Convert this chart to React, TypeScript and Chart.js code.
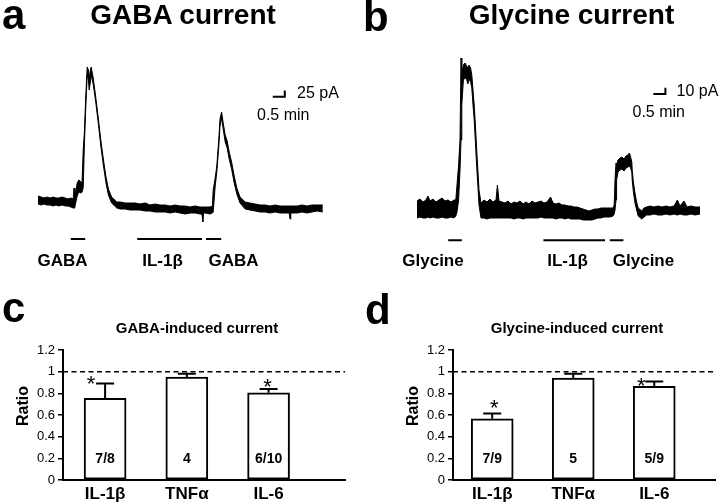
import React, { useEffect, useRef } from 'react';
import { Chart, registerables } from 'chart.js';

Chart.register(...registerables);

const FONT = '"Liberation Sans", Arial, Helvetica, sans-serif';

// ---------- Panel a: GABA current trace (time in s, current in pA) ----------
const traceATime = [
  0, 8, 15, 22, 30, 38, 45, 52, 60, 68,
  75, 82, 88, 90, 92, 98, 102, 108, 110, 113,
  116, 119, 123, 126, 128, 131, 133, 138, 144, 151,
  157, 163, 170, 176, 184, 197, 205, 218, 230, 243,
  255, 268, 280, 293, 305, 318, 330, 343, 355, 368,
  380, 393, 405, 410, 412, 414, 418, 430, 436, 438,
  443, 447, 452, 455, 459, 463, 468, 473, 478, 484,
  490, 497, 505, 518, 530, 543, 555, 568, 580, 593,
  605, 618, 628, 630, 632, 635, 648, 660, 673, 685,
  698, 712,
];
const traceAUpper = [
  36, 32, 28, 32, 28, 32, 28, 28, 32, 28,
  24, 28, 24, 68, 32, 88, 100, 92, 88, 220,
  292, 420, 552, 540, 508, 540, 552, 508, 436, 344,
  260, 188, 112, 64, 32, 12, 12, 8, 8, 8,
  4, 8, 0, 4, 0, 0, -4, 0, -4, -4,
  -8, -4, -8, -8, -8, -8, -8, -8, -4, 60,
  108, 156, 264, 344, 372, 328, 280, 256, 212, 172,
  120, 68, 32, 12, 8, 4, 0, 0, -4, 0,
  -4, -4, -4, -4, -4, -4, -4, 0, -4, 0,
  0, 0,
];
const traceALower = [
  4, 0, 4, 0, 0, -4, 0, -4, 0, -4,
  -4, -8, -12, -12, -8, 36, 52, 48, 52, 68,
  240, 372, 520, 500, 460, 492, 520, 484, 416, 324,
  236, 164, 88, 40, 8, -12, -16, -16, -20, -20,
  -20, -24, -24, -28, -28, -28, -32, -28, -32, -36,
  -32, -32, -36, -36, -68, -32, -32, -36, -32, -28,
  76, 132, 236, 316, 348, 304, 252, 228, 184, 144,
  92, 44, 8, -16, -20, -24, -28, -28, -32, -28,
  -32, -32, -32, -56, -32, -32, -32, -28, -32, -28,
  -24, -28,
];
const gabaApplicationsA = [[82, 118], [420, 458]];
const il1bApplicationsA = [[248, 410]];
const scaleBarA = { time: 30, current: 25 }; // 0.5 min, 25 pA

// ---------- Panel b: Glycine current trace (time in s, current in pA) ----------
const traceBTime = [
  0, 7.5, 15, 22.5, 27.5, 32.5, 40, 47.5, 55, 62.5,
  70, 77.5, 85, 92.5, 97, 100, 104, 107.5, 110, 112,
  116, 120, 124, 127, 130, 134, 137, 140, 143, 146,
  149, 152.5, 155, 160, 167.5, 175, 182.5, 190, 197.5, 201,
  205, 212.5, 220, 227.5, 235, 242.5, 250, 257.5, 265, 272.5,
  280, 287.5, 295, 302.5, 310, 317.5, 325, 334, 340, 347.5,
  355, 362.5, 370, 377.5, 385, 392.5, 400, 407.5, 415, 422.5,
  430, 437.5, 445, 452.5, 460, 467.5, 475, 482.5, 490, 493,
  495, 497.5, 499, 502.5, 507.5, 512.5, 517.5, 522.5, 527.5, 531,
  534, 537, 538, 541, 545, 549, 553, 562, 567.5, 574,
  582.5, 592.5, 602.5, 612.5, 622.5, 632.5, 642.5, 651, 657.5, 667.5,
  675, 685, 695, 707.5,
];
const traceBUpper = [
  12.8, 16, 11.2, 14.4, 20.8, 12.8, 16, 11.2, 14.4, 17.6,
  12.8, 14.4, 11.2, 14.4, 14.4, 38.4, 70.4, 110.4, 241.6, 214.4,
  230.4, 233.6, 228.8, 225.6, 230.4, 225.6, 214.4, 190.4, 166.4, 134.4,
  97.6, 59.2, 30.4, 9.6, 14.4, 11.2, 16, 11.2, 14.4, 38.4,
  12.8, 11.2, 9.6, 12.8, 8, 11.2, 9.6, 12.8, 8, 11.2,
  8, 12.8, 9.6, 11.2, 12.8, 9.6, 11.2, 19.2, 9.6, 8,
  9.6, 6.4, 6.4, 4.8, 4.8, 3.2, 3.2, 1.6, 0, -1.6,
  -3.2, -1.6, 0, 0, 1.6, 1.6, 1.6, 1.6, 1.6, 6.4,
  46.4, 73.6, 70.4, 78.4, 81.6, 83.2, 80, 84.8, 86.4, 89.6,
  83.2, 75.2, 62.4, 43.2, 25.6, 11.2, 1.6, -3.2, 1.6, 3.2,
  4.8, 3.2, 4.8, 3.2, 4.8, 3.2, 4.8, 14.4, 4.8, 12.8,
  3.2, 4.8, 3.2, 3.2,
];
const traceBLower = [
  -14.4, -12.8, -14.4, -14.4, -12.8, -14.4, -12.8, -14.4, -14.4, -12.8,
  -14.4, -14.4, -12.8, -14.4, -11.2, -4.8, 14.4, 62.4, 110.4, 166.4,
  206.4, 209.6, 208, 200, 208, 203.2, 193.6, 166.4, 142.4, 107.2,
  70.4, 33.6, 6.4, -14.4, -14.4, -16, -14.4, -14.4, -14.4, -14.4,
  -14.4, -14.4, -14.4, -14.4, -14.4, -16, -14.4, -14.4, -16, -14.4,
  -14.4, -14.4, -14.4, -14.4, -12.8, -14.4, -14.4, -14.4, -14.4, -16,
  -14.4, -14.4, -16, -14.4, -16, -16, -16, -16, -17.6, -17.6,
  -17.6, -17.6, -16, -14.4, -14.4, -12.8, -12.8, -12.8, -11.2, -8,
  -1.6, 14.4, 46.4, 59.2, 62.4, 64, 60.8, 65.6, 67.2, 68.8,
  65.6, 59.2, 46.4, 27.2, 9.6, -1.6, -11.2, -16, -12.8, -9.6,
  -9.6, -8, -9.6, -9.6, -8, -9.6, -8, -9.6, -8, -9.6,
  -9.6, -8, -9.6, -8,
];
const glyApplicationsB = [[78, 112], [482, 516]];
const il1bApplicationsB = [[316, 470]];
const scaleBarB = { time: 30, current: 10 }; // 0.5 min, 10 pA

// ---------- Panels c, d: ratio bar charts ----------
const cytokines = ['IL-1β', 'TNFα', 'IL-6'];
const gabaRatio = [0.755, 0.95, 0.805];
const gabaSem = [0.135, 0.03, 0.035];
const gabaN = ['7/8', '4', '6/10'];
const gabaSignificant = [true, false, true];
const glyRatio = [0.565, 0.94, 0.865];
const glySem = [0.05, 0.04, 0.045];
const glyN = ['7/9', '5', '5/9'];
const glySignificant = [true, false, true];
const yTicks = { min: 0, max: 1.2, step: 0.2 };
const referenceRatio = 1;

type TraceProps = {
  left: number; top: number; width: number; height: number;
  time: number[]; upper: number[]; lower: number[];
  applications: number[][]; stimLevel: number;
  bar: { time: number; current: number }; barAt: { t: number; i: number };
  xRange: [number, number]; yRange: [number, number];
};

function TraceChart(p: TraceProps) {
  const ref = useRef<HTMLCanvasElement>(null);
  useEffect(() => {
    const pts = (ys: number[]) => p.time.map((t, i) => ({ x: t, y: ys[i] }));
    const line = { borderColor: '#000', pointRadius: 0, fill: false, tension: 0 };
    const datasets: any[] = [
      { ...line, data: pts(p.upper), borderWidth: 1 },
      { ...line, data: pts(p.lower), borderWidth: 1, fill: '-1', backgroundColor: '#000' },
      ...p.applications.map(([s, e]) => ({
        ...line, borderWidth: 2,
        data: [{ x: s, y: p.stimLevel }, { x: e, y: p.stimLevel }],
      })),
      {
        ...line, borderWidth: 2,
        data: [
          { x: p.barAt.t, y: p.barAt.i },
          { x: p.barAt.t + p.bar.time, y: p.barAt.i },
          { x: p.barAt.t + p.bar.time, y: p.barAt.i + p.bar.current },
        ],
      },
    ];
    const chart = new Chart(ref.current!, {
      type: 'line',
      data: { datasets },
      options: {
        animation: false,
        responsive: false,
        events: [],
        layout: { padding: 0 },
        plugins: { legend: { display: false }, tooltip: { enabled: false } },
        scales: {
          x: { type: 'linear', display: false, min: p.xRange[0], max: p.xRange[1] },
          y: { type: 'linear', display: false, min: p.yRange[0], max: p.yRange[1] },
        },
      },
    });
    return () => chart.destroy();
  }, []);
  return (
    <canvas ref={ref} width={p.width} height={p.height}
      style={{ position: 'absolute', left: p.left, top: p.top, width: p.width, height: p.height }} />
  );
}

type BarProps = {
  left: number; top: number; width: number; height: number;
  yAxisWidth: number; padRight: number;
  means: number[]; sems: number[]; counts: string[]; significant: boolean[];
  starOffsets: number[][]; xRange: [number, number];
};

function makeBarMarks(p: BarProps) {
  return {
    id: 'barMarks',
    beforeDatasetsDraw(chart: any) {
      const { ctx, chartArea, scales } = chart;
      const yr = scales.y.getPixelForValue(referenceRatio);
      ctx.save();
      ctx.strokeStyle = '#000';
      ctx.lineWidth = 1.5;
      ctx.setLineDash([5, 3.5]);
      ctx.beginPath();
      ctx.moveTo(chartArea.left, yr);
      ctx.lineTo(chartArea.right, yr);
      ctx.stroke();
      ctx.restore();
    },
    afterDatasetsDraw(chart: any) {
      const { ctx, chartArea, scales } = chart;
      const y = scales.y;
      const meta = chart.getDatasetMeta(0);
      ctx.save();
      ctx.strokeStyle = '#000';
      ctx.fillStyle = '#000';
      meta.data.forEach((bar: any, i: number) => {
        const x = bar.x;
        const top = y.getPixelForValue(p.means[i]);
        const errTop = y.getPixelForValue(p.means[i] + p.sems[i]);
        ctx.lineWidth = 2;
        ctx.beginPath();
        ctx.moveTo(x, top);
        ctx.lineTo(x, errTop);
        ctx.moveTo(x - 9, errTop);
        ctx.lineTo(x + 9, errTop);
        ctx.stroke();
        ctx.font = `bold 14px ${FONT}`;
        ctx.textAlign = 'center';
        ctx.textBaseline = 'middle';
        ctx.fillText(p.counts[i], x, y.getPixelForValue(0.19));
        if (p.significant[i]) {
          const [dx, dy] = p.starOffsets[i];
          ctx.font = `22px ${FONT}`;
          ctx.textBaseline = 'alphabetic';
          ctx.fillText('*', x + dx, errTop + dy + 12.5);
        }
      });
      ctx.translate(chartArea.left - 39, chartArea.top + 56);
      ctx.rotate(-Math.PI / 2);
      ctx.font = `bold 16px ${FONT}`;
      ctx.textAlign = 'center';
      ctx.textBaseline = 'middle';
      ctx.fillText('Ratio', 0, 0);
      ctx.restore();
    },
  };
}

function BarPanel(p: BarProps) {
  const ref = useRef<HTMLCanvasElement>(null);
  useEffect(() => {
    const chart = new Chart(ref.current!, {
      type: 'bar',
      data: {
        datasets: [{
          data: cytokines.map((_, i) => ({ x: i, y: p.means[i] })),
          backgroundColor: '#fff',
          borderColor: '#000',
          borderWidth: 2,
          borderSkipped: false,
          barThickness: 42,
        }],
      },
      options: {
        animation: false,
        responsive: false,
        events: [],
        layout: { padding: { top: 50, right: p.padRight, left: 0, bottom: 0 } },
        plugins: { legend: { display: false }, tooltip: { enabled: false } },
        scales: {
          x: {
            type: 'linear',
            min: p.xRange[0],
            max: p.xRange[1],
            offset: false,
            grid: { display: false, drawTicks: false },
            border: { display: true, color: '#000', width: 2 },
            ticks: {
              color: '#000',
              font: { family: FONT, size: 17, weight: 'bold' },
              padding: 4,
              maxRotation: 0,
              autoSkip: false,
              callback: (v: any) => cytokines[v as number] ?? '',
            },
            afterBuildTicks: (s: any) => { s.ticks = cytokines.map((_, i) => ({ value: i })); },
            afterFit: (s: any) => { s.height = 24; },
          },
          y: {
            type: 'linear',
            min: yTicks.min,
            max: yTicks.max,
            ticks: {
              stepSize: yTicks.step,
              color: '#000',
              font: { family: FONT, size: 13 },
              padding: 3,
              callback: (v: any) => String(Math.round((v as number) * 10) / 10),
            },
            grid: { display: true, drawOnChartArea: false, drawTicks: true, tickLength: 5, color: '#000', lineWidth: 1.5 },
            border: { display: true, color: '#000', width: 2 },
            afterFit: (s: any) => { s.width = p.yAxisWidth; },
          },
        },
      },
      plugins: [makeBarMarks(p)],
    } as any);
    return () => chart.destroy();
  }, []);
  return (
    <canvas ref={ref} width={p.width} height={p.height}
      style={{ position: 'absolute', left: p.left, top: p.top, width: p.width, height: p.height }} />
  );
}

type LabelDef = { text: string; x: number; y: number; size: number; bold?: boolean; align?: 'left' | 'center' };

const labels: LabelDef[] = [
  { text: 'a', x: 2, y: 30, size: 42, bold: true },
  { text: 'GABA current', x: 183, y: 25, size: 28, bold: true, align: 'center' },
  { text: '25 pA', x: 297, y: 99, size: 16 },
  { text: '0.5 min', x: 257, y: 121, size: 16 },
  { text: 'GABA', x: 62.5, y: 266.5, size: 17, bold: true, align: 'center' },
  { text: 'IL-1β', x: 162.5, y: 266.5, size: 17, bold: true, align: 'center' },
  { text: 'GABA', x: 233.5, y: 266.5, size: 17, bold: true, align: 'center' },
  { text: 'b', x: 363, y: 32, size: 42, bold: true },
  { text: 'Glycine current', x: 571.5, y: 25, size: 28, bold: true, align: 'center' },
  { text: '10 pA', x: 676.5, y: 96.5, size: 16 },
  { text: '0.5 min', x: 632.5, y: 117.5, size: 16 },
  { text: 'Glycine', x: 433, y: 266.5, size: 17, bold: true, align: 'center' },
  { text: 'IL-1β', x: 567.5, y: 266.5, size: 17, bold: true, align: 'center' },
  { text: 'Glycine', x: 643.5, y: 266.5, size: 17, bold: true, align: 'center' },
  { text: 'c', x: 2, y: 323, size: 42, bold: true },
  { text: 'GABA-induced current', x: 197, y: 333, size: 15, bold: true, align: 'center' },
  { text: 'd', x: 365, y: 325, size: 42, bold: true },
  { text: 'Glycine-induced current', x: 577, y: 333, size: 15, bold: true, align: 'center' },
];

function Label({ d }: { d: LabelDef }) {
  return (
    <div style={{
      position: 'absolute',
      left: d.x,
      top: d.y - 0.8465 * d.size,
      fontFamily: FONT,
      fontSize: d.size,
      lineHeight: `${d.size}px`,
      fontWeight: d.bold ? 'bold' : 'normal',
      whiteSpace: 'nowrap',
      color: '#000',
      transform: d.align === 'center' ? 'translateX(-50%)' : undefined,
    }}>{d.text}</div>
  );
}

export default function App() {
  return (
    <div style={{ position: 'fixed', left: 0, top: 0, width: 720, height: 504, background: '#fff', overflow: 'hidden' }}>
      <TraceChart left={0} top={0} width={360} height={300}
        time={traceATime} upper={traceAUpper} lower={traceALower}
        applications={[...gabaApplicationsA, ...il1bApplicationsA]} stimLevel={-136}
        bar={scaleBarA} barAt={{ t: 587, i: 433 }}
        xRange={[-95, 805]} yRange={[-380, 820]} />
      <TraceChart left={360} top={0} width={360} height={300}
        time={traceBTime} upper={traceBUpper} lower={traceBLower}
        applications={[...glyApplicationsB, ...il1bApplicationsB]} stimLevel={-50}
        bar={scaleBarB} barAt={{ t: 591, i: 184 }}
        xRange={[-142.5, 757.5]} yRange={[-145.6, 334.4]} />
      <BarPanel left={0} top={300} width={360} height={204} yAxisWidth={63} padRight={15}
        means={gabaRatio} sems={gabaSem} counts={gabaN} significant={gabaSignificant}
        starOffsets={[[-14, -5], [0, 0], [-1, -8]]} xRange={[-0.515, 2.935]} />
      <BarPanel left={360} top={300} width={360} height={204} yAxisWidth={93} padRight={5}
        means={glyRatio} sems={glySem} counts={glyN} significant={glySignificant}
        starOffsets={[[2, -11], [0, 0], [-13, -1]]} xRange={[-0.484, 2.75]} />
      {labels.map((d, i) => <Label key={i} d={d} />)}
    </div>
  );
}
